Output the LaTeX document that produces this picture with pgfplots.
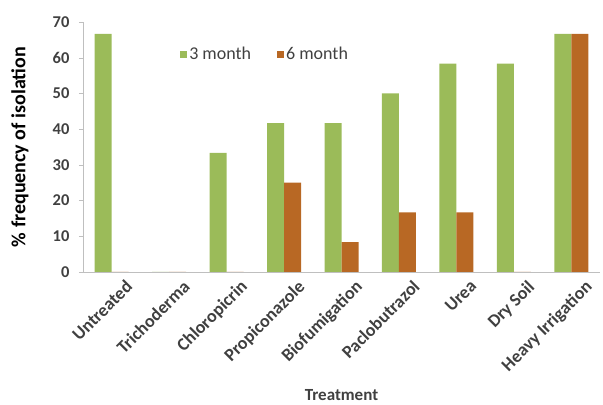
\documentclass[border=0pt]{standalone}
\usepackage{pgfplots}
\pgfplotsset{compat=1.18}
\usepackage{fontspec}
\setmainfont{Carlito}
\definecolor{cgreen}{RGB}{155,187,89}
\definecolor{cbrown}{RGB}{184,104,36}
\definecolor{ctext}{RGB}{64,64,64}
\definecolor{caxis}{RGB}{191,191,191}
\begin{document}
\begin{tikzpicture}
\begin{axis}[
  name=ax,
  scale only axis,
  width=517pt, height=250pt,
  ybar=0pt, bar width=17pt,
  xmin=-0.5, xmax=8.5,
  ymin=0, ymax=70,
  ytick={0,10,20,30,40,50,60,70},
  xtick={0,1,2,3,4,5,6,7,8},
  xticklabels={Untreated,Trichoderma,Chloropicrin,Propiconazole,Biofumigation,Paclobutrazol,Urea,Dry Soil,Heavy Irrigation},
  axis lines=left,
  axis line style={-, draw=caxis, line width=0.8pt},
  xtick style={draw=none},
  ytick style={draw=caxis},
  tick align=outside,
  major tick length=4pt,
  /pgf/number format/assume math mode=true,
  yticklabel style={font=\fontsize{16.5}{18}\selectfont\bfseries, text=ctext, xshift=-6pt},
  xticklabel style={font=\fontsize{18}{20}\selectfont\bfseries, text=ctext, rotate=45, anchor=north east, inner sep=0pt, yshift=-11pt, xshift=7pt},
  every axis y label/.style={at={(axis description cs:0,0.5)}, xshift=-63pt, rotate=90, anchor=center, font=\fontsize{20}{22}\selectfont\bfseries, text=black},
  every axis x label/.style={at={(axis description cs:0.5,0)}, yshift=-123pt, anchor=center, font=\fontsize{17}{19}\selectfont\bfseries, text=ctext},
  ylabel={\% frequency of isolation},
  xlabel={Treatment},
  legend columns=2,
  legend style={draw=none, fill=none, at={(axis description cs:0.182,0.872)}, anchor=west,
    font=\fontsize{18}{20}\selectfont, text=ctext,
    /tikz/every even column/.style={column sep=24pt},
    /tikz/every odd column/.style={column sep=0pt}},
  legend image code/.code={\fill[#1] (0pt,-3.5pt) rectangle (7pt,3.5pt);},
]
\addplot[fill=cgreen, draw=none] coordinates {(0,66.67) (1,0) (2,33.33) (3,41.67) (4,41.67) (5,50) (6,58.33) (7,58.33) (8,66.67)};
\addplot[fill=cbrown, draw=none] coordinates {(0,0) (1,0) (2,0) (3,25) (4,8.33) (5,16.67) (6,16.67) (7,0) (8,66.67)};
\legend{3 month, 6 month}
\end{axis}
\pgfresetboundingbox
\path (ax.south west) ++(-83pt,-133pt) coordinate (bl);
\path (ax.north east) ++(3pt,22pt) coordinate (tr);
\path (bl) rectangle (tr);
\end{tikzpicture}
\end{document}
